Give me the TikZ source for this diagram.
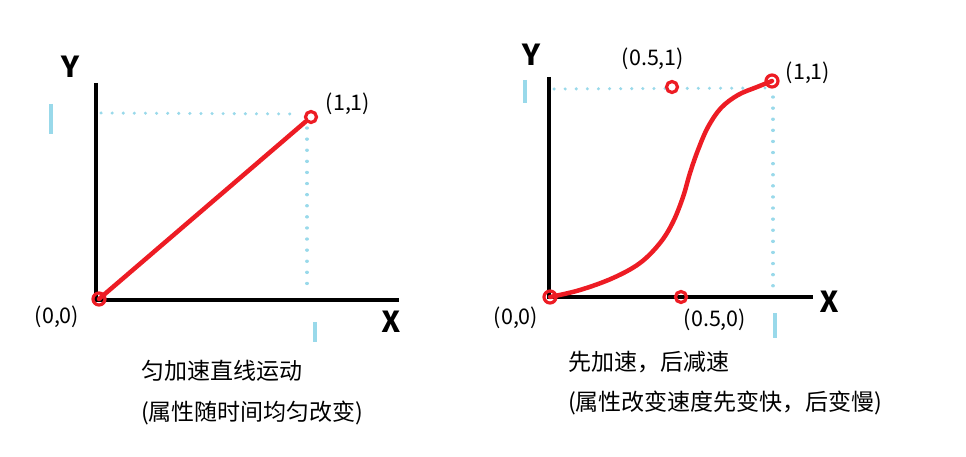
\documentclass[tikz,border=0pt]{standalone}
\usepackage{fontspec}
\setmainfont{Noto Sans CJK SC}
\newfontfamily\axfont{Fira Sans}
\definecolor{pred}{RGB}{237,28,36}
\definecolor{lblue}{RGB}{153,217,234}
\begin{document}
\begin{tikzpicture}[x=1pt,y=-1pt,
  axis/.style={line width=4.5pt,black},
  tickb/.style={line width=4pt,lblue},
  guide/.style={line width=3.3pt,lblue,line cap=round,dash pattern=on 0.1pt off 11pt},
  curve/.style={line width=4.5pt,pred,line cap=round,line join=round},
  pt/.style={circle,draw=pred,line width=3.2pt,inner sep=0pt,minimum size=11pt},
  ptw/.style={pt,fill=white},
  lbl/.style={font=\fontsize{21.5}{24}\selectfont,inner sep=0pt},
  axl/.style={font=\axfont\bfseries\fontsize{31}{31}\selectfont,inner sep=0pt},
  captxt/.style={font=\fontsize{23}{27}\selectfont,inner sep=0pt,anchor=west}]
\useasboundingbox (0,0) rectangle (966,457);
% ---------- left chart ----------
\coordinate (LYt) at (96,83);
\coordinate (LO) at (96,300);
\coordinate (LXr) at (399,300);
\draw[axis] (LYt) -- (LO) -- (LXr);
\node[axl] (LY) at (70,67) {Y};
\node[axl] (LX) at (391,322) {X};
\draw[tickb] (51,104) -- (51,134);
\draw[tickb] (315,322) -- (315,342);
\coordinate (LHa) at (101,113);
\coordinate (LHb) at (300,114);
\draw[guide] (LHa) -- (LHb);
\coordinate (LVa) at (307,128);
\coordinate (LVb) at (307,292);
\draw[guide] (LVa) -- (LVb);
\node[pt,minimum size=12pt] (L00) at (99,299) {};
\node[ptw] (L11) at (311,117) {};
\draw[curve] (L00.center) -- (L11);
\node[lbl] (L00t) at (57,317) {(0,0)};
\node[lbl] (L11t) at (348,104) {(1,1)};
\node[captxt] (Lc1) at (141,371) {匀加速直线运动};
\node[captxt] (Lc2) at (141,413) {(属性随时间均匀改变)};
% ---------- right chart ----------
\coordinate (RYt) at (549,77);
\coordinate (RO) at (549,297);
\coordinate (RXr) at (813,297);
\draw[axis] (RYt) -- (RO) -- (RXr);
\node[axl] (RY) at (531,55) {Y};
\node[axl] (RX) at (829,302) {X};
\draw[tickb] (525,80) -- (525,103);
\draw[tickb] (775,313) -- (775,338);
\coordinate (RHa) at (554,89);
\coordinate (RHb) at (765,88);
\draw[guide] (RHa) -- (RHb);
\coordinate (RVa) at (773,97);
\coordinate (RVb) at (773,290);
\draw[guide] (RVa) -- (RVb);
\node[pt,minimum size=12pt] (R00) at (550,297) {};
\node[pt] (R050) at (681,297) {};
\node[ptw] (R051) at (672,87) {};
\node[pt,minimum size=12pt] (R11) at (772,81) {};
\draw[curve] plot[smooth,tension=0.6] coordinates {(550,297) (580,290) (613,278) (640,263) (660,243) (673,222) (683,197) (690,173) (698,150) (708,127) (721,108) (738,95) (757,87) (772,81)};
\node[lbl] (R00t) at (516,318) {(0,0)};
\node[lbl] (R050t) at (715,320) {(0.5,0)};
\node[lbl] (R051t) at (653,59) {(0.5,1)};
\node[lbl] (R11t) at (808,73) {(1,1)};
\node[captxt] (Rc1) at (568,362) {先加速，后减速};
\node[captxt] (Rc2) at (568,403) {(属性改变速度先变快，后变慢)};
\end{tikzpicture}
\end{document}
